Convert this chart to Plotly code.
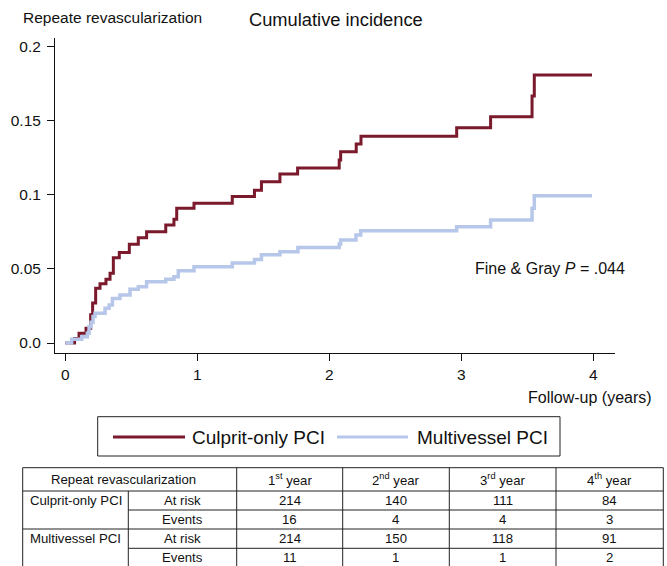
import plotly.graph_objects as go

# ---------------- data ----------------
culprit_x = [0, 0.07, 0.104, 0.157, 0.192, 0.207, 0.230, 0.263, 0.308, 0.339, 0.364, 0.409, 0.485,
             0.553, 0.616, 0.761, 0.823, 0.844, 0.975, 1.265, 1.433, 1.486, 1.626, 1.760, 2.075,
             2.086, 2.204, 2.240, 2.965, 3.222, 3.536, 3.553, 3.99]
culprit_y = [0, 0.003, 0.0065, 0.0099, 0.019, 0.027, 0.037, 0.040, 0.043, 0.047, 0.0576, 0.061, 0.0666,
             0.071, 0.075, 0.0796, 0.0835, 0.0909, 0.0943, 0.0989, 0.103, 0.1088, 0.114, 0.118, 0.1235,
             0.1291, 0.1343, 0.1395, 0.1453, 0.1527, 0.1667, 0.1808, 0.1808]

multi_x = [0, 0.048, 0.124, 0.167, 0.18, 0.195, 0.21, 0.225, 0.301, 0.332, 0.357, 0.414, 0.49,
           0.553, 0.616, 0.761, 0.823, 0.856, 0.975, 1.265, 1.433, 1.486, 1.626, 1.762, 2.075,
           2.086, 2.202, 2.238, 2.965, 3.222, 3.536, 3.553, 3.99]
multi_y = [0, 0.0025, 0.0043, 0.0065, 0.011, 0.014, 0.0178, 0.020, 0.0234, 0.0256, 0.0301, 0.0324, 0.0362,
           0.038, 0.0414, 0.043, 0.0447, 0.0488, 0.0515, 0.054, 0.0563, 0.0596, 0.0616, 0.0645, 0.0668,
           0.0695, 0.0729, 0.0758, 0.0785, 0.083, 0.0909, 0.0994, 0.0994]

series_names = ["Culprit-only PCI", "Multivessel PCI"]
series_colors = ["#7a1a2c", "#b6c7ea"]

x_ticks = [0, 1, 2, 3, 4]
y_ticks = [0, 0.05, 0.1, 0.15, 0.2]
y_ticktext = ["0.0", "0.05", "0.1", "0.15", "0.2"]

table_header = ["Repeat revascularization", "1<sup>st</sup> year", "2<sup>nd</sup> year",
                "3<sup>rd</sup> year", "4<sup>th</sup> year"]
row_labels = ["At risk", "Events", "At risk", "Events"]
culprit_at_risk = [214, 140, 111, 84]
culprit_events = [16, 4, 4, 3]
multi_at_risk = [214, 150, 118, 91]
multi_events = [11, 1, 1, 2]

# ---------------- layout geometry ----------------
W, H = 667, 566
ML, MR, MT, MB = 55, 52, 38, 213
PW, PH = W - ML - MR, H - MT - MB


def px(x):
    return (x - ML) / PW


def py(y):
    return (H - MB - y) / PH


FONT = "Liberation Sans, Arial, sans-serif"
TFONT = "Liberation Sans, Arial, sans-serif"

fig = go.Figure()
fig.add_trace(go.Scatter(x=culprit_x, y=culprit_y, mode="lines", line_shape="hv",
                         line=dict(color=series_colors[0], width=3), name=series_names[0]))
fig.add_trace(go.Scatter(x=multi_x, y=multi_y, mode="lines", line_shape="hv",
                         line=dict(color=series_colors[1], width=3.5), name=series_names[1]))

shapes = []
annotations = []

# legend box
shapes.append(dict(type="rect", xref="paper", yref="paper", x0=px(97.7), x1=px(560),
                   y0=py(456), y1=py(416.7), line=dict(color="#222", width=1)))
leg_items = [(113, 185, 190), (337, 408, 415)]
for (lx0, lx1, tx), name, col in zip(leg_items, series_names, series_colors):
    shapes.append(dict(type="line", xref="paper", yref="paper", x0=px(lx0), x1=px(lx1),
                       y0=py(437), y1=py(437), line=dict(color=col, width=3)))
    annotations.append(dict(xref="paper", yref="paper", x=px(tx), y=py(437), text=name,
                            showarrow=False, xanchor="left", yanchor="middle",
                            font=dict(family=FONT, size=19, color="#111")))

# table grid
tl, tr = 22.7, 663.3
cols = [22.7, 128.3, 236.7, 342.7, 449.3, 556, 663.3]
rows = [467.7, 491, 510, 529, 548.3, 567.5]
lc = dict(color="#222", width=1)
shapes.append(dict(type="line", xref="paper", yref="paper", x0=px(tl), x1=px(tr),
                   y0=py(rows[0]), y1=py(rows[0]), line=lc))
shapes.append(dict(type="line", xref="paper", yref="paper", x0=px(tl), x1=px(tr),
                   y0=py(rows[1]), y1=py(rows[1]), line=lc))
shapes.append(dict(type="line", xref="paper", yref="paper", x0=px(tl), x1=px(tr),
                   y0=py(rows[3]), y1=py(rows[3]), line=lc))
for r in (rows[2], rows[4]):
    shapes.append(dict(type="line", xref="paper", yref="paper", x0=px(cols[1]), x1=px(tr),
                       y0=py(r), y1=py(r), line=lc))
for i, c in enumerate(cols):
    top = rows[1] if i == 1 else rows[0]
    shapes.append(dict(type="line", xref="paper", yref="paper", x0=px(c), x1=px(c),
                       y0=py(top), y1=py(rows[5]), line=lc))


def cell(xc, yc, text):
    annotations.append(dict(xref="paper", yref="paper", x=px(xc), y=py(yc), text=text,
                            showarrow=False, xanchor="center", yanchor="middle",
                            font=dict(family=TFONT, size=13.2, color="#111")))


hy = (rows[0] + rows[1]) / 2
cell(123, hy, table_header[0])
for j in range(4):
    cell((cols[2 + j] + cols[3 + j]) / 2, hy, table_header[1 + j])
row_vals = [culprit_at_risk, culprit_events, multi_at_risk, multi_events]
for i in range(4):
    yc = (rows[1 + i] + rows[2 + i]) / 2
    cell((cols[1] + cols[2]) / 2, yc, row_labels[i])
    for j in range(4):
        cell((cols[2 + j] + cols[3 + j]) / 2, yc, str(row_vals[i][j]))
cell((cols[0] + cols[1]) / 2, (rows[1] + rows[2]) / 2, series_names[0])
cell((cols[0] + cols[1]) / 2, (rows[3] + rows[4]) / 2, series_names[1])

# text labels
annotations += [
    dict(xref="paper", yref="paper", x=px(336), y=py(20), text="Cumulative incidence",
         showarrow=False, xanchor="center", yanchor="middle", font=dict(family=FONT, size=18.3, color="#111")),
    dict(xref="paper", yref="paper", x=px(21), y=py(17), text="Repeate revascularization",
         showarrow=False, xanchor="left", yanchor="middle", font=dict(family=FONT, size=15.5, color="#111")),
    dict(xref="paper", yref="paper", x=px(472.5), y=py(268), text="Fine &amp; Gray <i>P</i> = .044",
         showarrow=False, xanchor="left", yanchor="middle", font=dict(family=FONT, size=16, color="#111")),
    dict(xref="paper", yref="paper", x=px(654), y=py(397), text="Follow-up (years)",
         showarrow=False, xanchor="right", yanchor="middle", font=dict(family=FONT, size=16, color="#111")),
]

x0 = -10.3 / 132
y0 = -10 / 1482
fig.update_layout(
    width=W, height=H,
    margin=dict(l=ML, r=MR, t=MT, b=MB, pad=0),
    paper_bgcolor="white", plot_bgcolor="white",
    showlegend=False,
    shapes=shapes, annotations=annotations,
    xaxis=dict(range=[x0, x0 + PW / 132], tickvals=x_ticks, showgrid=False, zeroline=False,
               showline=True, linecolor="#111", linewidth=1, ticks="outside", ticklen=7,
               tickcolor="#111", ticklabelstandoff=0,
               tickfont=dict(family=FONT, size=15.5, color="#111")),
    yaxis=dict(range=[y0, y0 + PH / 1482], tickvals=y_ticks, ticktext=y_ticktext, showgrid=False,
               zeroline=False, showline=True, linecolor="#111", linewidth=1, ticks="outside",
               ticklen=7, tickcolor="#111", ticklabelstandoff=3,
               tickfont=dict(family=FONT, size=15.5, color="#111")),
)

fig.write_html("out.html")
